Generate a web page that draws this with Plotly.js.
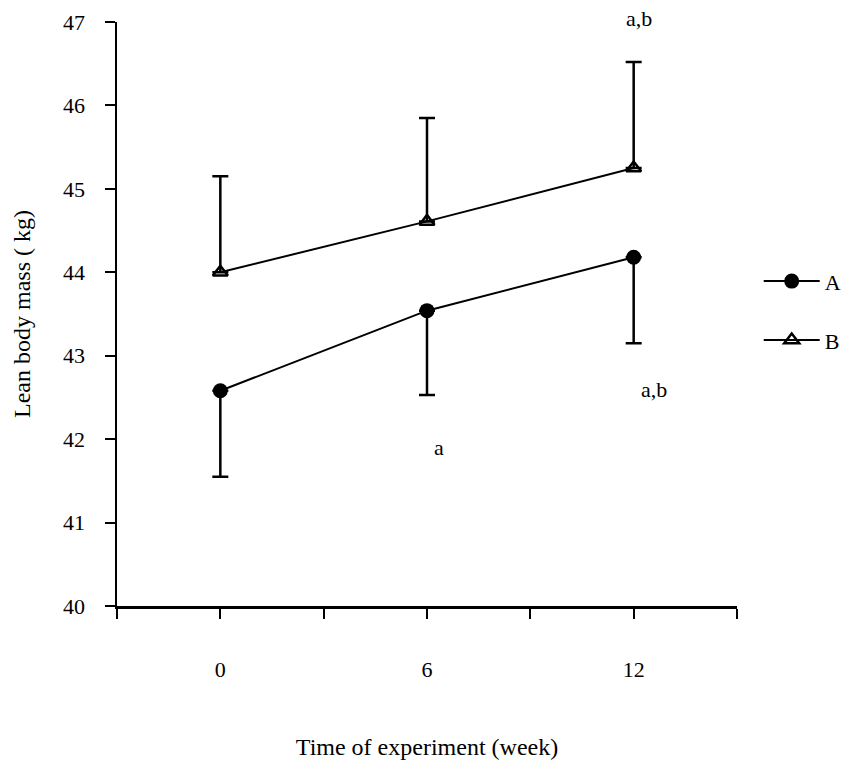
<!DOCTYPE html>
<html>
<head>
<meta charset="utf-8">
<script src="https://cdn.plot.ly/plotly-3.0.1.min.js"></script>
<style>html,body{margin:0;padding:0;background:#fff;}#chart{width:846px;height:765px;}</style>
</head>
<body>
<div id="chart"></div>
<script>
// ---- data ----
const weeks = [0, 6, 12];
const groupA = [42.58, 43.54, 44.18];
const groupA_sdDown = [1.03, 1.01, 1.03];
const groupB = [44.0, 44.61, 45.25];
const groupB_sdUp = [1.15, 1.24, 1.27];
const xTickVals = [-3, 0, 3, 6, 9, 12, 15];
const xTickText = ['', '0', '', '6', '', '12', ''];
const yTickVals = [40, 41, 42, 43, 44, 45, 46, 47];
const sigText = ['a,b', 'a,b', 'a'];
const sigX = [12.15, 12.6, 6.35];
const sigY = [47, 42.6, 41.9];
const sigShift = [4, 0, 0];

const FONT = 'Liberation Serif, Times New Roman, serif';
const zeros = weeks.map(() => 0);

const traceA = {
  x: weeks, y: groupA, name: 'A', type: 'scatter', mode: 'lines+markers',
  line: {color: '#000', width: 2},
  marker: {symbol: 'circle', size: 15, color: '#000'},
  error_y: {type: 'data', symmetric: false, array: zeros, arrayminus: groupA_sdDown,
            color: '#000', thickness: 2.5, width: 8},
  legend: 'legend'
};
const traceB = {
  x: weeks, y: groupB, name: 'B', type: 'scatter', mode: 'lines+markers',
  line: {color: '#000', width: 2},
  marker: {symbol: 'triangle-up-open', size: 13, color: '#000', line: {width: 2.5, color: '#000'}},
  error_y: {type: 'data', symmetric: false, array: groupB_sdUp, arrayminus: zeros,
            color: '#000', thickness: 2.5, width: 8},
  legend: 'legend2'
};

const annotations = sigText.map((t, i) => ({
  x: sigX[i], y: sigY[i], xref: 'x', yref: 'y', text: t, showarrow: false,
  yshift: sigShift[i], font: {family: FONT, size: 22, color: '#000'}
}));

const legendStyle = {xanchor: 'left', yanchor: 'middle', bgcolor: 'rgba(0,0,0,0)',
  borderwidth: 0, itemwidth: 56, font: {family: FONT, size: 22, color: '#000'}};

const layout = {
  width: 846, height: 765,
  margin: {l: 117, r: 109, t: 22, b: 159, autoexpand: false},
  paper_bgcolor: '#fff', plot_bgcolor: '#fff',
  font: {family: FONT, color: '#000', size: 22},
  xaxis: {
    range: [-3, 15], tickmode: 'array', tickvals: xTickVals, ticktext: xTickText,
    showline: true, linecolor: '#000', linewidth: 2.5, mirror: false,
    ticks: 'outside', ticklen: 10, tickwidth: 2, tickcolor: '#000',
    showgrid: false, zeroline: false, ticklabelstandoff: 32,
    tickfont: {family: FONT, size: 22, color: '#000'},
    title: {text: 'Time of experiment (week)', font: {family: FONT, size: 24, color: '#000'}, standoff: 58}
  },
  yaxis: {
    range: [40, 47], tickmode: 'array', tickvals: yTickVals,
    showline: true, linecolor: '#000', linewidth: 2.5,
    ticks: 'outside', ticklen: 10, tickwidth: 2, tickcolor: '#000',
    showgrid: false, zeroline: false, ticklabelstandoff: 15,
    tickfont: {family: FONT, size: 22, color: '#000'},
    title: {text: 'Lean body mass ( kg)', font: {family: FONT, size: 24, color: '#000'}, standoff: 26}
  },
  showlegend: true,
  legend: Object.assign({x: 1.035, y: 0.556}, legendStyle),
  legend2: Object.assign({x: 1.035, y: 0.455}, legendStyle),
  annotations: annotations
};

Plotly.newPlot('chart', [traceA, traceB], layout, {displayModeBar: false, staticPlot: true});
</script>
</body>
</html>
